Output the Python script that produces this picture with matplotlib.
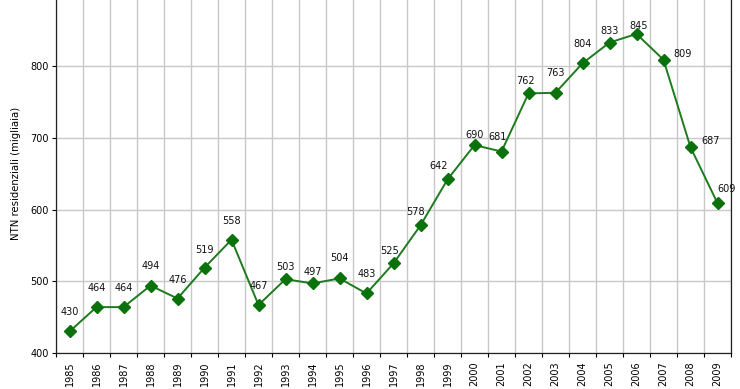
import numpy as np
import matplotlib
matplotlib.use("Agg")
from matplotlib import pyplot as plt

years = [str(y) for y in range(1985, 2010)]
ntn = [430, 464, 464, 494, 476, 519, 558, 467, 503, 497, 504, 483, 525,
       578, 642, 690, 681, 762, 763, 804, 833, 845, 809, 687, 609]

# label offsets in pixels (dx right, dy up) from each point
lab_dx = [0, 0, 0, 0, 0, 0, 0, 0, 0, 0, 0, 0, -4,
          -5, -9, 0, -4, -3, 0, 0, 0, 2, 19, 20, 9]
lab_dy = [19, 19, 19, 20, 19, 18, 19, 19, 12, 11, 20, 19, 12,
          13, 13, 10, 15, 12, 20, 19, 12, 8, 6, 6, 14]

plt.rcParams['font.family'] = ['DejaVu Sans']

fig = plt.figure(figsize=(7.4, 3.89), dpi=100)
ax = fig.add_axes([56 / 740, 36 / 389, 675 / 740, 358.5 / 389])

x = np.arange(len(years))
ax.plot(x, ntn, color='#1e7a1e', lw=1.4, marker='D', ms=6.5,
        mfc='#0a720a', mec='#0a720a', zorder=3)

px = 72 / fig.dpi
for i, v in enumerate(ntn):
    ax.annotate(str(v), (i, v), xytext=(lab_dx[i] * px, lab_dy[i] * px),
                textcoords='offset points', ha='center', va='center',
                fontsize=7, color='#111111')

ax.set_xlim(-0.5, len(years) - 0.5)
ax.set_ylim(400, 900)
ax.set_yticks([400, 500, 600, 700, 800])

# ticks and vertical grid on category boundaries, labels at centres
ax.set_xticks(np.arange(-0.5, len(years), 1.0))
ax.set_xticklabels([])
ax.set_xticks(x, minor=True)
ax.set_xticklabels(years, minor=True, rotation=90, fontsize=7)
ax.tick_params(axis='x', which='minor', length=0, pad=6)
ax.tick_params(axis='x', which='major', length=3, width=0.8)
ax.tick_params(axis='y', length=3, width=0.8, labelsize=7, pad=2)

ax.grid(True, which='major', color='#c8c8c8', lw=1.0)
ax.set_axisbelow(True)

for side in ['left', 'bottom', 'right', 'top']:
    ax.spines[side].set_color('#222222')
    ax.spines[side].set_linewidth(0.9)

ax.set_ylabel('NTN residenziali (migliaia)', fontsize=7.3, labelpad=7)

fig.savefig('out.png', dpi=100)
